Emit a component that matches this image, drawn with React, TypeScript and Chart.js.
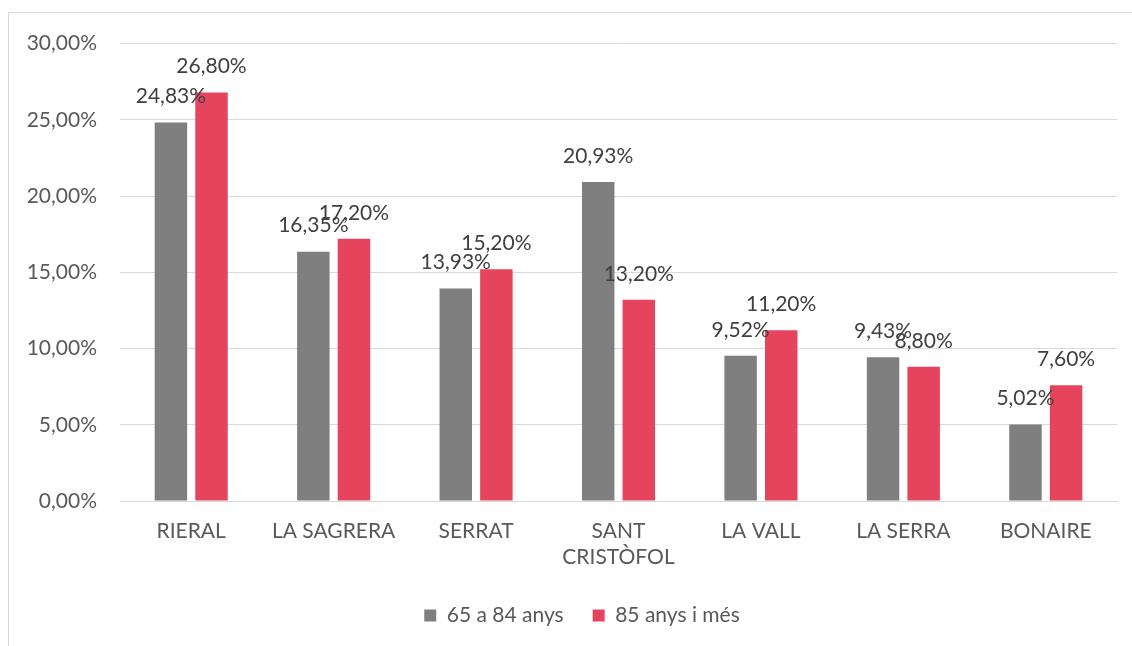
import React, { useEffect, useRef } from "react";
import { Chart, registerables } from "chart.js";

Chart.register(...registerables);

const categories: (string | string[])[] = [
  "RIERAL",
  "LA SAGRERA",
  "SERRAT",
  ["SANT", "CRISTÒFOL"],
  "LA VALL",
  "LA SERRA",
  "BONAIRE",
];
const series1Label = "65 a 84 anys";
const series1 = [24.83, 16.35, 13.93, 20.93, 9.52, 9.43, 5.02];
const series2Label = "85 anys i més";
const series2 = [26.8, 17.2, 15.2, 13.2, 11.2, 8.8, 7.6];

const FONT = "Lato, 'Open Sans', sans-serif";
const FS = 21;

const fmt = (v: number) => v.toFixed(2).replace(".", ",") + "%";

const labelPlugin = {
  id: "barValueLabels",
  afterDatasetsDraw(chart: any) {
    const ctx = chart.ctx;
    ctx.save();
    ctx.font = `${FS}px ${FONT}`;
    ctx.fillStyle = "#404040";
    ctx.textAlign = "center";
    ctx.textBaseline = "middle";
    chart.data.datasets.forEach((ds: any, i: number) => {
      const meta = chart.getDatasetMeta(i);
      meta.data.forEach((el: any, j: number) => {
        ctx.fillText(fmt(ds.data[j]), el.x, el.y - 26);
      });
    });
    ctx.restore();
  },
};

// The original chart frame is wider than the picture, so its legend sits right of centre.
const legendShiftPlugin = {
  id: "legendShift",
  afterLayout(chart: any) {
    const l = chart.legend;
    if (l) {
      l.left += 19;
      l.right += 19;
    }
  },
};

export default function App() {
  const ref = useRef<HTMLCanvasElement | null>(null);

  useEffect(() => {
    if (!ref.current) return;
    const chart = new Chart(ref.current, {
      type: "bar",
      data: {
        labels: categories,
        datasets: [
          {
            label: series1Label,
            data: series1,
            backgroundColor: "#7f7f7f",
            categoryPercentage: 0.57,
            barPercentage: 0.8,
          },
          {
            label: series2Label,
            data: series2,
            backgroundColor: "#e6445d",
            categoryPercentage: 0.57,
            barPercentage: 0.8,
          },
        ],
      },
      options: {
        animation: false,
        responsive: false,
        maintainAspectRatio: false,
        layout: { padding: { top: 0, right: 15, left: 0, bottom: 10 } },
        plugins: {
          tooltip: { enabled: false },
          legend: {
            position: "bottom",
            labels: {
              boxWidth: 12,
              boxHeight: 12,
              padding: 29,
              color: "#595959",
              font: { family: FONT, size: FS },
            },
          },
        },
        scales: {
          x: {
            grid: { display: false, drawTicks: false },
            border: { display: true, color: "#d9d9d9", width: 1 },
            ticks: {
              color: "#595959",
              font: { family: FONT, size: FS },
              padding: 18,
              maxRotation: 0,
              autoSkip: false,
            },
            afterFit(scale: any) {
              scale.height = 75;
            },
          },
          y: {
            min: 0,
            max: 30,
            grid: { color: "#d9d9d9", lineWidth: 1, drawTicks: false },
            border: { display: false },
            ticks: {
              stepSize: 5,
              color: "#595959",
              font: { family: FONT, size: FS },
              padding: 23,
              callback: (v: any) => fmt(Number(v)),
            },
            afterFit(scale: any) {
              scale.width = 111;
            },
          },
        },
      },
      plugins: [labelPlugin, legendShiftPlugin],
    });
    return () => chart.destroy();
  }, []);

  return (
    <div
      style={{
        position: "fixed",
        left: 8,
        top: 12,
        width: 1140,
        height: 700,
        border: "1px solid #d9d9d9",
        background: "#fff",
      }}
    >
      <canvas
        ref={ref}
        width={1123}
        height={638}
        style={{ display: "block", position: "absolute", left: 0, top: -5 }}
      />
    </div>
  );
}
